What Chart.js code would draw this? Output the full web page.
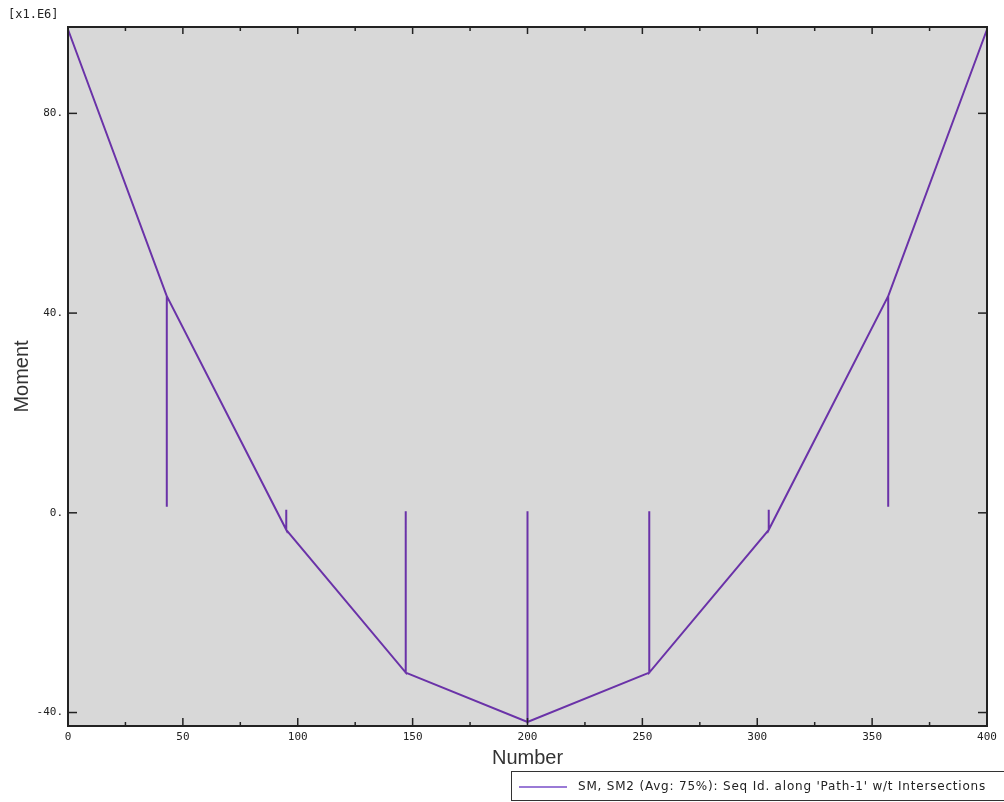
<!DOCTYPE html>
<html>
<head>
<meta charset="utf-8">
<script src="https://cdn.jsdelivr.net/npm/chart.js@4"></script>
<style>
  html, body { margin: 0; padding: 0; background: #fff; }
  #wrap { width: 1004px; height: 802px; }
</style>
</head>
<body>
<div id="wrap"><canvas id="chart" width="1004" height="802"></canvas></div>
<script>
// Path values (x1.E6), spikes at the intersections
const pathX = [0, 43, 43, 43, 95, 95, 95, 147, 147, 147, 200, 200, 200, 253, 253, 253, 305, 305, 305, 357, 357, 357, 400]
const momentY = [96.8, 43.4, 1.2, 43.4, -3.4, 0.6, -3.4, -32, 0.3, -32, -41.9, 0.3, -41.9, -32, 0.3, -32, -3.4, 0.6, -3.4, 43.4, 1.2, 43.4, 96.8]

const xTicks = [0, 50, 100, 150, 200, 250, 300, 350, 400]
const xMinorTicks = [25, 75, 125, 175, 225, 275, 325, 375]
const yTicks = [-40, 0, 40, 80]
const xRange = [0, 400]
const yRange = [-42.7, 97.3]

const seriesLabel = "SM, SM2 (Avg: 75%): Seq Id. along 'Path-1' w/t Intersections"
const scaleNote = '[x1.E6]'

const lineColor = '#6a32a8'
const tickFont = { family: "'DejaVu Sans Mono', monospace", size: 11 }

// grey plot area + frame + inward tick marks
const framePlugin = {
  id: 'frame',
  beforeDatasetsDraw(chart) {
    const { ctx, chartArea: a } = chart
    ctx.save()
    ctx.fillStyle = '#d8d8d8'
    ctx.fillRect(a.left, a.top, a.right - a.left, a.bottom - a.top)
    ctx.restore()
  },
  afterDatasetsDraw(chart) {
    const { ctx, chartArea: a, scales } = chart
    ctx.save()
    ctx.strokeStyle = '#222'
    ctx.lineWidth = 1.5
    const tick = (x1, y1, x2, y2) => {
      ctx.beginPath(); ctx.moveTo(x1, y1); ctx.lineTo(x2, y2); ctx.stroke()
    }
    xTicks.forEach(v => {
      const px = scales.x.getPixelForValue(v)
      tick(px, a.bottom, px, a.bottom - 8)
      tick(px, a.top, px, a.top + 7)
    })
    xMinorTicks.forEach(v => {
      const px = scales.x.getPixelForValue(v)
      tick(px, a.bottom, px, a.bottom - 4)
      tick(px, a.top, px, a.top + 4)
    })
    yTicks.forEach(v => {
      const py = scales.y.getPixelForValue(v)
      tick(a.left, py, a.left + 9, py)
      tick(a.right, py, a.right - 9, py)
    })
    ctx.lineWidth = 2
    ctx.strokeRect(a.left, a.top, a.right - a.left, a.bottom - a.top)
    ctx.restore()
  },
  afterDraw(chart) {
    const { ctx } = chart
    ctx.save()
    ctx.fillStyle = '#222'
    ctx.font = "12px 'DejaVu Sans Mono', monospace"
    ctx.textBaseline = 'middle'
    ctx.fillText(scaleNote, 8, 15)

    // legend box, runs off the right edge like the original
    ctx.fillStyle = '#fff'
    ctx.fillRect(511, 771, 500, 29)
    ctx.strokeStyle = '#333'
    ctx.lineWidth = 1
    ctx.strokeRect(511.5, 771.5, 500, 29)
    ctx.strokeStyle = '#9a7ad6'
    ctx.lineWidth = 2
    ctx.beginPath(); ctx.moveTo(519, 787); ctx.lineTo(567, 787); ctx.stroke()
    ctx.fillStyle = '#222'
    ctx.font = "12px 'DejaVu Sans', sans-serif"
    ctx.letterSpacing = '0.8px'
    ctx.fillText(seriesLabel, 578, 787)
    ctx.restore()
  }
}

const ctx = document.getElementById('chart').getContext('2d')
new Chart(ctx, {
  type: 'scatter',
  data: {
    datasets: [{
      label: seriesLabel,
      data: pathX.map((x, i) => ({ x, y: momentY[i] })),
      showLine: true,
      borderColor: lineColor,
      backgroundColor: lineColor,
      borderWidth: 2,
      pointRadius: 0,
      tension: 0
    }]
  },
  options: {
    responsive: false,
    animation: false,
    layout: { padding: { left: 0, top: 27, right: 17, bottom: 32 } },
    plugins: {
      legend: { display: false },
      tooltip: { enabled: false }
    },
    scales: {
      x: {
        type: 'linear',
        min: xRange[0],
        max: xRange[1],
        afterFit: s => { s.height = 44 },
        afterBuildTicks: s => { s.ticks = xTicks.map(v => ({ value: v })) },
        grid: { display: false, drawTicks: false },
        border: { display: false },
        ticks: { font: tickFont, color: '#222', padding: 5, maxRotation: 0 },
        title: {
          display: true,
          text: 'Number',
          font: { family: "'Liberation Sans', Arial, sans-serif", size: 20 },
          color: '#333',
          padding: { top: 0, bottom: 0 }
        }
      },
      y: {
        type: 'linear',
        min: yRange[0],
        max: yRange[1],
        afterFit: s => { s.width = 68 },
        afterBuildTicks: s => { s.ticks = yTicks.map(v => ({ value: v })) },
        grid: { display: false, drawTicks: false },
        border: { display: false },
        ticks: {
          font: tickFont,
          color: '#222',
          padding: 5,
          callback: v => v + '.'
        },
        title: {
          display: true,
          text: 'Moment',
          font: { family: "'Liberation Sans', Arial, sans-serif", size: 20 },
          color: '#333',
          padding: { top: 10, bottom: 0 }
        }
      }
    }
  },
  plugins: [framePlugin]
})
</script>
</body>
</html>
